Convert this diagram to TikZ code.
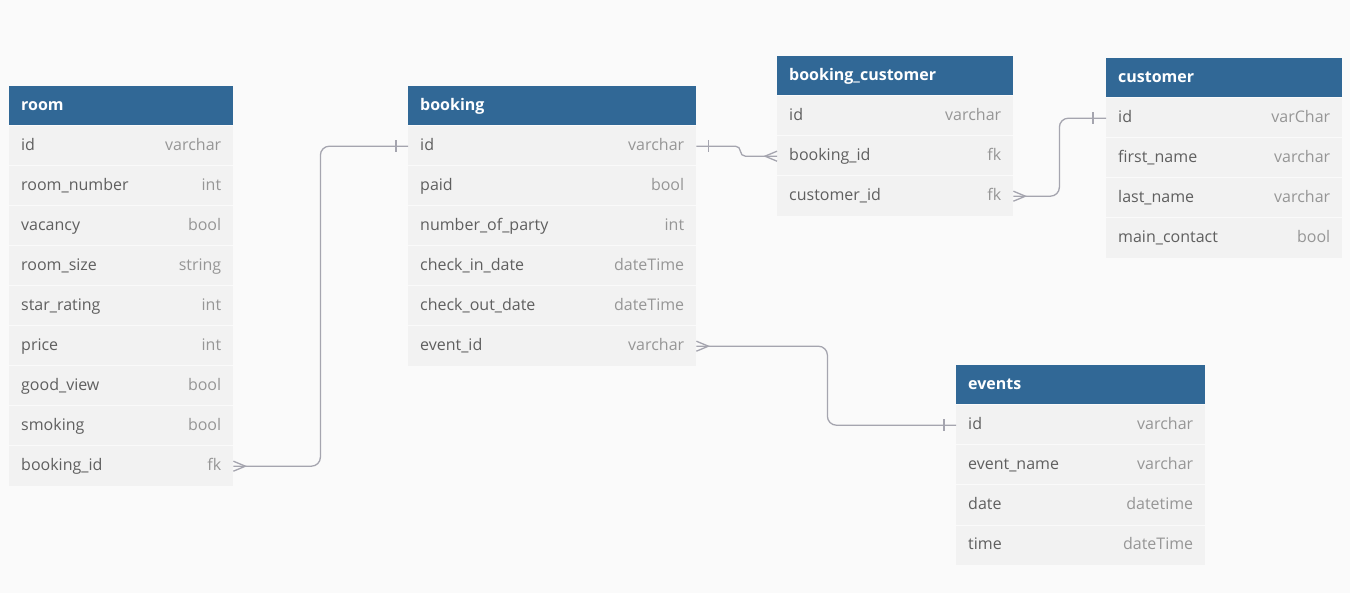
\documentclass[tikz,border=0pt]{standalone}
\usepackage{fontspec}
\setmainfont{Open Sans}
\usetikzlibrary{calc}
\definecolor{headblue}{RGB}{49,104,150}
\definecolor{rowgray}{RGB}{242,242,242}
\definecolor{pagegray}{RGB}{250,250,250}
\definecolor{fieldtext}{RGB}{95,95,95}
\definecolor{typetext}{RGB}{150,150,150}
\definecolor{linkgray}{RGB}{165,165,175}

\tikzset{
  erHead/.style={anchor=north west, fill=headblue, text=white,
    font=\bfseries\fontsize{16}{18}\selectfont, minimum height=40pt,
    inner xsep=12pt, inner ysep=0pt, align=left, text height=12pt, text depth=3pt},
  erRow/.style={anchor=north west, fill=rowgray, text=fieldtext,
    font=\fontsize{16}{18}\selectfont, minimum height=40pt,
    inner xsep=12pt, inner ysep=0pt, align=left, text height=12pt, text depth=3pt},
  erType/.style={anchor=east, text=typetext, font=\fontsize{16}{18}\selectfont,
    inner sep=0pt, text height=12pt, text depth=3pt},
  erSep/.style={draw=pagegray, line width=1pt},
  relLine/.style={draw=linkgray, line width=1.3pt, rounded corners=9pt},
  relEnd/.style={draw=linkgray, line width=1.3pt},
}

% table: name, title, left, top, width, rows key/field/type
\newcommand{\erTable}[6]{%
  \pgfmathsetmacro\erTw{#5-24}
  \node[erHead, text width=\erTw pt] (#1) at (#3,#4) {#2};
  \foreach \key/\field/\type [count=\i] in {#6} {
    \node[erRow, text width=\erTw pt] (#1-\key) at (#3,{#4+40*\i}) {\field};
    \node[erType] at ([xshift=-12pt]#1-\key.east) {\type};
    \draw[erSep] (#1-\key.north west) -- (#1-\key.north east);
  }
}

\begin{document}
\begin{tikzpicture}[x=1pt, y=-1pt]

    % page
    \fill[pagegray] (0,0) rectangle (1350,593);

    % Tables
    \erTable{room}{room}{9}{86}{224}{
        id/id/varchar, number/room\_number/int, vacancy/vacancy/bool,
        size/room\_size/string, star/star\_rating/int, price/price/int,
        view/good\_view/bool, smoking/smoking/bool, bookingid/booking\_id/fk}

    \erTable{booking}{booking}{408}{86}{288}{
        id/id/varchar, paid/paid/bool, party/number\_of\_party/int,
        checkin/check\_in\_date/dateTime, checkout/check\_out\_date/dateTime,
        eventid/event\_id/varchar}

    \erTable{bc}{booking\_customer}{777}{56}{236}{
        id/id/varchar, bookingid/booking\_id/fk, customerid/customer\_id/fk}

    \erTable{customer}{customer}{1106}{58}{236}{
        id/id/varChar, first/first\_name/varchar, last/last\_name/varchar,
        main/main\_contact/bool}

    \erTable{events}{events}{956}{365}{249}{
        id/id/varchar, name/event\_name/varchar, date/date/datetime,
        time/time/dateTime}

    % room.booking_id >- booking.id
    \draw[relLine] (room-bookingid.east) -- ++(87,0) |- (booking-id.west);
    \draw[relEnd] ($(room-bookingid.east)+(0,-5)$) -- ++(12,5) -- ++(-12,5);
    \draw[relEnd] ($(booking-id.west)+(-12,-6)$) -- ++(0,12);

    % booking.id -< booking_customer.booking_id
    \draw[relLine, rounded corners=5pt] (booking-id.east) -- ++(44,0) -- ++(0,10) -- (bc-bookingid.west);
    \draw[relEnd] ($(booking-id.east)+(12,-6)$) -- ++(0,12);
    \draw[relEnd] ($(bc-bookingid.west)+(0,-5)$) -- ++(-12,5) -- ++(12,5);

    % booking_customer.customer_id >- customer.id
    \draw[relLine] (bc-customerid.east) -- ++(46,0) |- (customer-id.west);
    \draw[relEnd] ($(bc-customerid.east)+(0,-5)$) -- ++(12,5) -- ++(-12,5);
    \draw[relEnd] ($(customer-id.west)+(-13,-6)$) -- ++(0,12);

    % booking.event_id >- events.id
    \draw[relLine] (booking-eventid.east) -- ++(131,0) |- (events-id.west);
    \draw[relEnd] ($(booking-eventid.east)+(0,-5)$) -- ++(12,5) -- ++(-12,5);
    \draw[relEnd] ($(events-id.west)+(-12,-6)$) -- ++(0,12);

\end{tikzpicture}
\end{document}
